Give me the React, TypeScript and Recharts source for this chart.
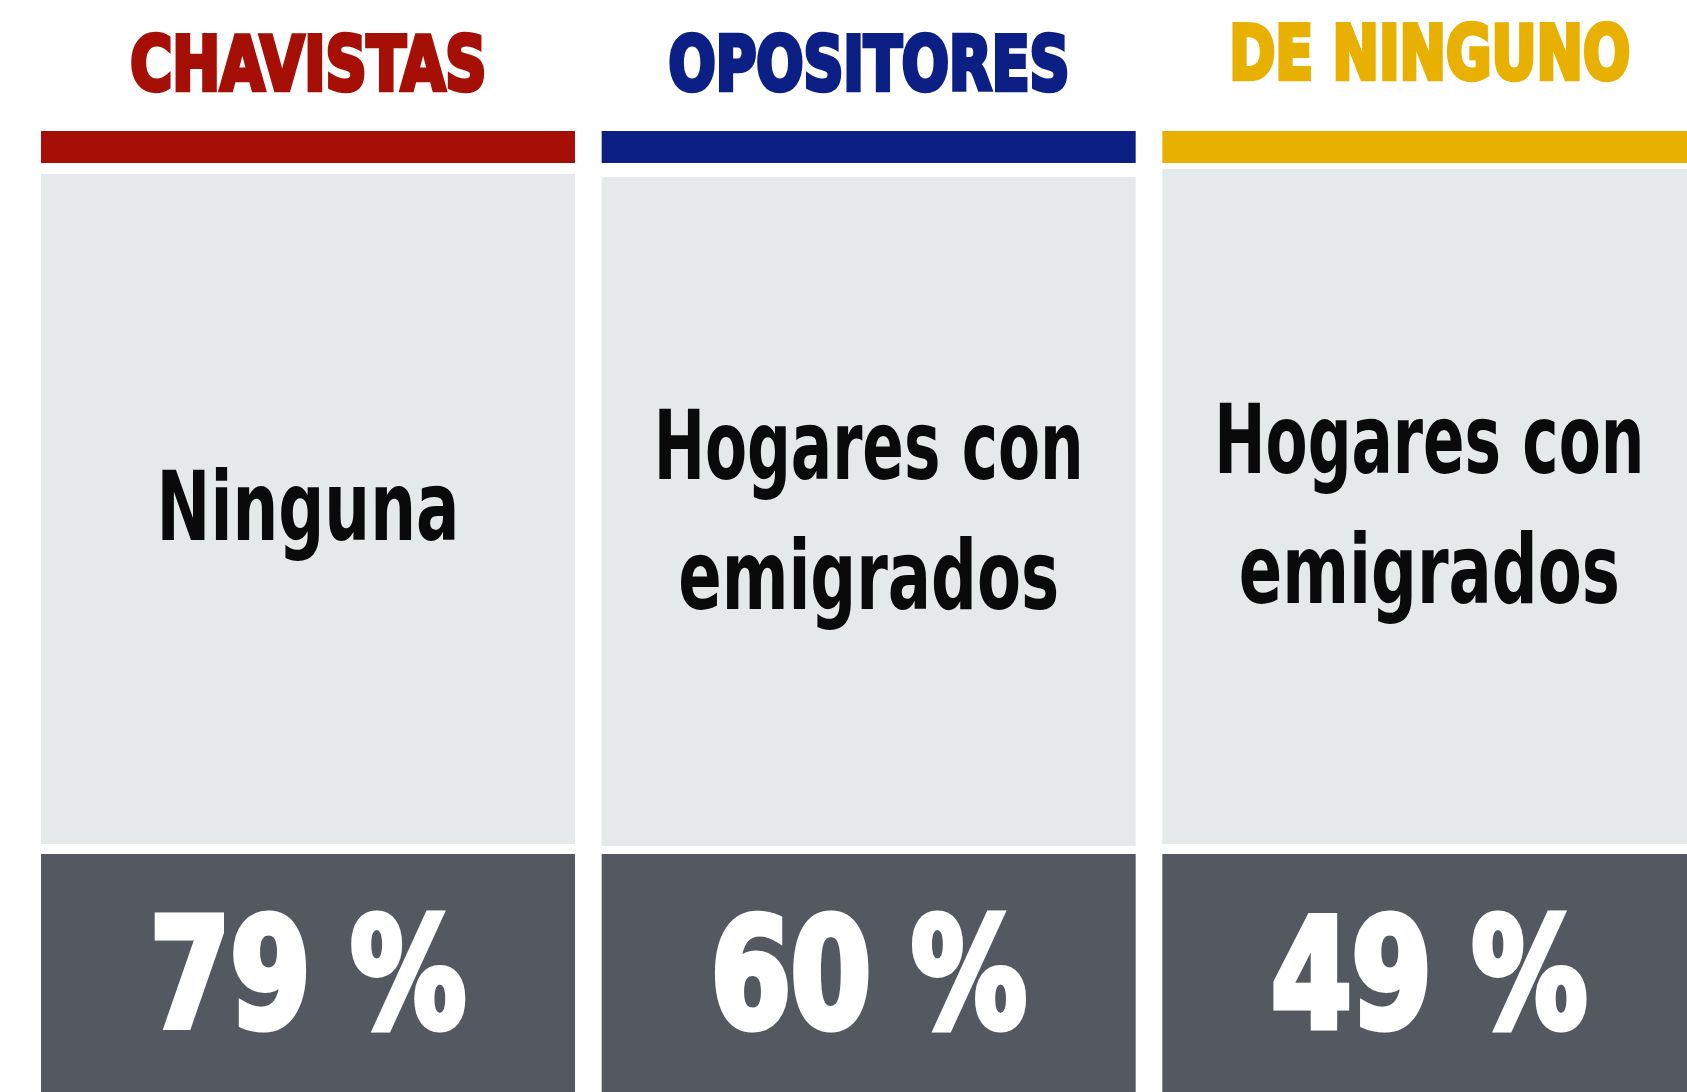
import React from 'react';
import { BarChart, Bar, XAxis, YAxis } from 'recharts';

// ---- data ----
const groups = ['CHAVISTAS', 'OPOSITORES', 'DE NINGUNO'];
const answers = ['Ninguna', 'Hogares con\nemigrados', 'Hogares con\nemigrados'];
const percentages = [79, 60, 49];

// ---- styles / layout ----
const GROUP_COLORS = ['#A50F06', '#0B1F84', '#E8B000'];
const PANEL_BG = '#E5E9EA';
const FOOT_BG = '#545961';
const TITLE_FONT = "'DejaVu Sans Condensed', 'DejaVu Sans', sans-serif";
const BODY_FONT = "'Liberation Sans Narrow', 'DejaVu Sans Condensed', 'Liberation Sans', sans-serif";

const TITLE_BASE = [92, 92, 81];
const PANEL_TOP = [174, 177, 169];
const PANEL_BOTTOM = [844, 846, 844];
const TEXT_SHIFT = [0, 0, -6];
const BAR_TOP = 131;
const BAR_H = 32;
const FOOT_TOP = 854;
const FOOT_BOTTOM = 1092;
const TEXT_WIDTHS: Record<string, number> = {
  CHAVISTAS: 361,
  OPOSITORES: 406,
  'DE NINGUNO': 406,
  Ninguna: 303,
  'Hogares con': 430,
  emigrados: 381,
};

const data = groups.map((g, i) => ({ group: g, answer: answers[i], pct: percentages[i] }));

const TitleTick = (props: any) => {
  const { x, payload } = props;
  const i = groups.indexOf(payload.value);
  const color = GROUP_COLORS[i];
  return (
    <text
      x={x}
      y={TITLE_BASE[i] - 2}
      textAnchor="middle"
      fontFamily={TITLE_FONT}
      fontWeight={700}
      fontSize={75}
      fill={color}
      stroke={color}
      strokeWidth={4.5}
      strokeLinejoin="miter"
      textLength={TEXT_WIDTHS[payload.value] - 5}
      lengthAdjust="spacingAndGlyphs"
    >
      {payload.value}
    </text>
  );
};

const PanelShape = (props: any) => {
  const { x, width, payload } = props;
  const i = groups.indexOf(payload.group);
  const cx = x + width / 2;
  const lines: string[] = payload.answer.split('\n');
  const n = lines.length;
  return (
    <g>
      <rect x={x} y={BAR_TOP} width={width} height={BAR_H} fill={GROUP_COLORS[i]} />
      <rect x={x} y={PANEL_TOP[i]} width={width} height={PANEL_BOTTOM[i] - PANEL_TOP[i]} fill={PANEL_BG} />
      {lines.map((ln, k) => (
        <text
          key={k}
          x={cx}
          y={540 - (n - 1) * 61 + k * 130 + TEXT_SHIFT[i]}
          textAnchor="middle"
          fontFamily={BODY_FONT}
          fontWeight={700}
          fontSize={97}
          fill="#0a0a0a"
          textLength={TEXT_WIDTHS[ln]}
          lengthAdjust="spacingAndGlyphs"
        >
          {ln}
        </text>
      ))}
      <rect x={x} y={FOOT_TOP} width={width} height={FOOT_BOTTOM - FOOT_TOP} fill={FOOT_BG} />
      <text
        x={cx}
        y={1027}
        textAnchor="middle"
        fontFamily={TITLE_FONT}
        fontWeight={700}
        fontSize={152}
        fill="#FFFFFF"
        stroke="#FFFFFF"
        strokeWidth={7}
        textLength={316}
        lengthAdjust="spacingAndGlyphs"
      >
        {`${payload.pct} %`}
      </text>
    </g>
  );
};

export default function App() {
  return (
    <div
      style={{
        position: 'absolute',
        left: 0,
        top: 0,
        width: 1687,
        height: 1092,
        overflow: 'hidden',
        background: '#FFFFFF',
      }}
    >
      <BarChart
        width={1710}
        height={1092}
        data={data}
        margin={{ top: 0, right: 0, left: 28, bottom: 0 }}
        barSize={534}
      >
        <XAxis
          dataKey="group"
          orientation="top"
          height={120}
          axisLine={false}
          tickLine={false}
          interval={0}
          tick={<TitleTick />}
        />
        <YAxis hide domain={[0, 100]} width={0} />
        <Bar dataKey="pct" shape={<PanelShape />} isAnimationActive={false} />
      </BarChart>
    </div>
  );
}
